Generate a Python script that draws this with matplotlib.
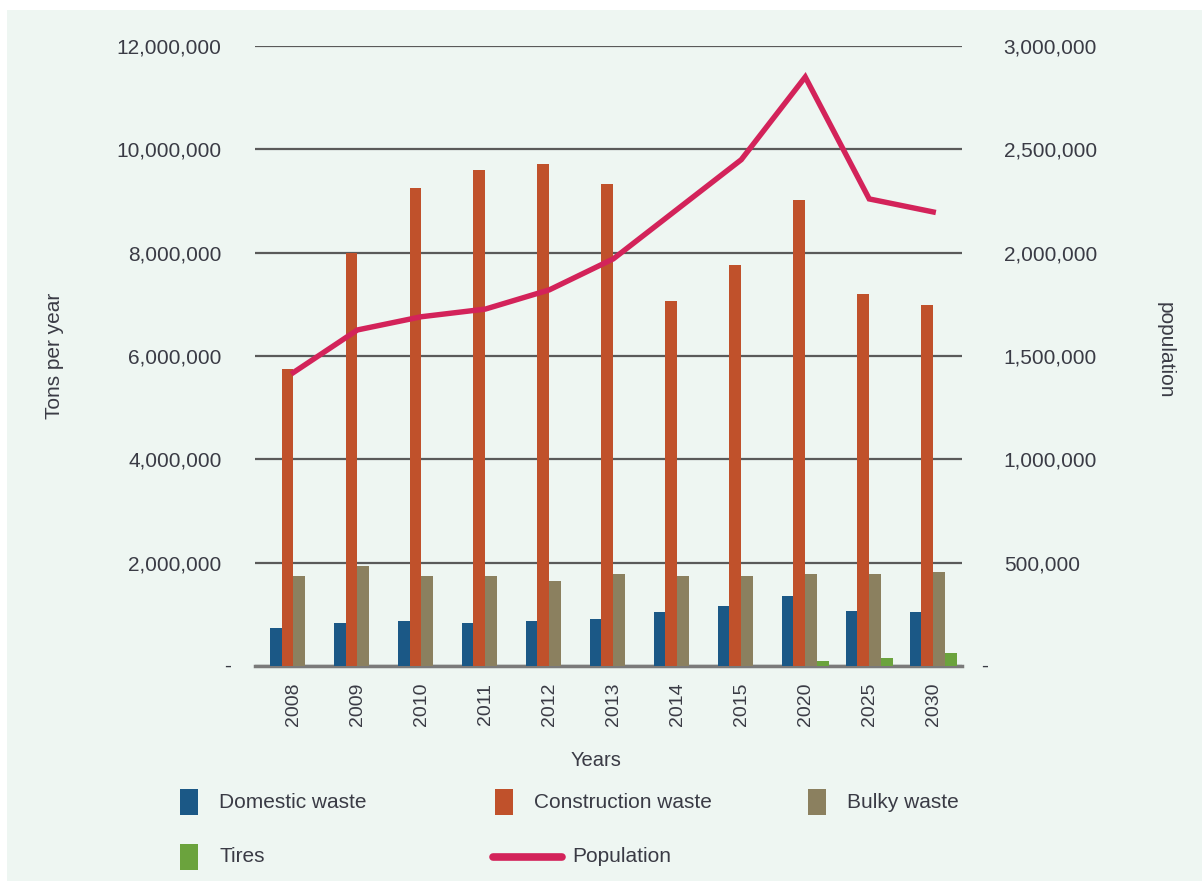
import numpy as np
import matplotlib.pyplot as plt
from matplotlib.patches import Rectangle
from matplotlib.lines import Line2D
from matplotlib.ticker import FuncFormatter

plt.rcParams['font.family'] = ['Liberation Sans Narrow', 'Liberation Sans', 'DejaVu Sans']

years = ["2008", "2009", "2010", "2011", "2012", "2013", "2014", "2015", "2020", "2025", "2030"]
domestic = [740000, 840000, 880000, 840000, 880000, 910000, 1040000, 1170000, 1350000, 1070000, 1040000]
construction = [5750000, 8000000, 9250000, 9600000, 9720000, 9330000, 7060000, 7760000, 9020000, 7200000, 6990000]
bulky = [1740000, 1940000, 1740000, 1740000, 1650000, 1780000, 1740000, 1740000, 1780000, 1780000, 1810000]
tires = [0, 0, 0, 0, 0, 0, 0, 0, 90000, 160000, 260000]
population = [1420000, 1626000, 1690000, 1727000, 1820000, 1970000, 2210000, 2450000, 2850000, 2260000, 2197000]

series = [("Domestic waste", domestic, "#1b5886"),
          ("Construction waste", construction, "#c0512b"),
          ("Bulky waste", bulky, "#8b805f"),
          ("Tires", tires, "#6ba33d")]
pop_color = "#d3235a"
text_color = "#3a3b45"
bg = "#eef6f2"

W, H = 1202, 881
fig = plt.figure(figsize=(W / 100, H / 100), dpi=100)
fig.patch.set_facecolor("white")
fig.add_artist(Rectangle((7 / W, 0), 1 - 7 / W, 1 - 10 / H, transform=fig.transFigure,
                         facecolor=bg, edgecolor="none", zorder=-10))

ax = fig.add_axes([255 / W, 1 - 666 / H, 707 / W, 620 / H])
ax.set_facecolor("none")
ax2 = ax.twinx()

x = np.arange(len(years))
bw = 0.185
for i, (name, vals, col) in enumerate(series):
    ax.bar(x + (i - 1.5) * bw, vals, width=bw, color=col, zorder=3)

ax2.plot(x, population, color=pop_color, lw=3.9, solid_joinstyle="miter", zorder=4)

ax.set_xlim(-0.6, 10.45)
ax.set_ylim(0, 12000000)
ax2.set_ylim(0, 3000000)
ax.set_yticks(np.arange(0, 12000001, 2000000))
ax2.set_yticks(np.arange(0, 3000001, 500000))

fmt = FuncFormatter(lambda v, p: "" if v == 0 else f"{int(v):,}")
ax.yaxis.set_major_formatter(fmt)
ax2.yaxis.set_major_formatter(fmt)

ax.grid(axis="y", color="#5a5a5a", lw=1.6, zorder=1)
for a in (ax, ax2):
    for s in a.spines.values():
        s.set_visible(False)
ax.spines["bottom"].set_visible(True)
ax.spines["bottom"].set_color("#7a7a7a")
ax.spines["bottom"].set_linewidth(2.5)

ax.set_xticks(x)
ax.set_xticklabels(years, rotation=90)
ax.tick_params(axis="x", length=0, pad=12, labelsize=14, labelcolor=text_color)
ax.tick_params(axis="y", length=0, pad=24, labelsize=15, labelcolor=text_color)
ax2.tick_params(axis="y", length=0, pad=30, labelsize=15, labelcolor=text_color)

# zero labels drawn as dashes
ax.text(-27 / 707, 0, "-", transform=ax.transAxes, ha="center", va="center",
        fontsize=15, color=text_color)
ax.text(1 + 23 / 707, 0, "-", transform=ax.transAxes, ha="center", va="center",
        fontsize=15, color=text_color)

fig.text(55 / W, 1 - 356 / H, "Tons per year", rotation=90, ha="center", va="center",
         fontsize=15, color=text_color)
fig.text(1165 / W, 1 - 350 / H, "population", rotation=-90, ha="center", va="center",
         fontsize=15, color=text_color)
fig.text(596 / W, 1 - 760 / H, "Years", ha="center", va="center",
         fontsize=14.5, color=text_color)

# legend
entries = [(180, 802, "patch", series[0][2], "Domestic waste"),
           (495, 802, "patch", series[1][2], "Construction waste"),
           (808, 802, "patch", series[2][2], "Bulky waste"),
           (180, 857, "patch", series[3][2], "Tires"),
           (490, 857, "line", pop_color, "Population")]
for px, py, kind, col, label in entries:
    if kind == "patch":
        fig.add_artist(Rectangle((px / W, 1 - (py + 13) / H), 18 / W, 26 / H,
                                 transform=fig.transFigure, facecolor=col, edgecolor="none"))
        tx = px + 39
    else:
        fig.add_artist(Line2D([(px + 3) / W, (px + 72) / W], [1 - py / H, 1 - py / H],
                              transform=fig.transFigure, color=col, lw=5.5,
                              solid_capstyle="round"))
        tx = px + 82
    fig.text(tx / W, 1 - py / H, label, ha="left", va="center", fontsize=15, color=text_color)

fig.savefig("out.png", dpi=100, facecolor=fig.get_facecolor())
